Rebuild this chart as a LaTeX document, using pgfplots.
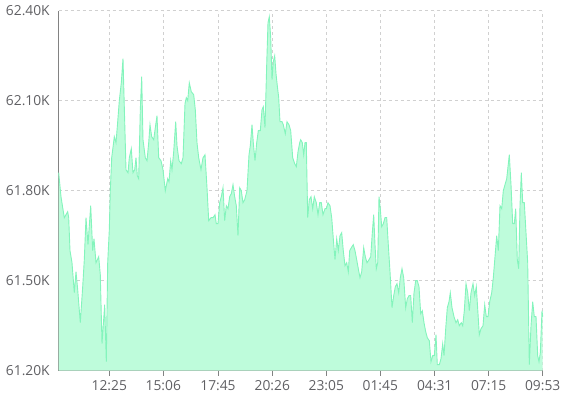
\documentclass[border=0pt]{standalone}
\usepackage{pgfplots}
\pgfplotsset{compat=1.18}
\usepackage{pgfplotstable}
\usepackage{fontspec}
\setmainfont{Open Sans}

\definecolor{areafill}{RGB}{190,252,219}
\definecolor{arealine}{RGB}{132,244,188}
\definecolor{gridc}{RGB}{208,208,208}
\definecolor{axisc}{RGB}{130,130,130}
\definecolor{labelc}{RGB}{96,96,100}

% x = horizontal position inside the plot, y = price in thousands
\pgfplotstableread{
x y
0 61.86
2.3 61.78
5.6 61.71
9 61.73
10 61.71
11.3 61.60
13.3 61.56
15.6 61.46
17.3 61.53
19 61.47
21.6 61.36
24 61.48
25.6 61.57
27.3 61.71
29.3 61.62
32 61.75
34 61.60
35.3 61.64
37.3 61.56
40 61.58
41.6 61.52
43.3 61.29
46 61.42
47.6 61.23
49 61.56
50.6 61.67
51.6 61.80
53 61.91
55.6 61.98
57.3 61.96
59 62.03
60.6 62.10
62.6 62.16
64.3 62.24
65.6 62.08
67.3 61.87
69.3 61.86
70.6 61.91
72.6 61.94
74.3 61.86
76 61.87
77.3 61.91
78.6 61.85
80 61.84
81.6 62.07
83 62.18
84.3 61.97
86.6 61.91
88.3 61.90
90 61.96
91.3 62.02
93 61.98
95 61.97
96.6 62.01
98.3 62.05
100 61.91
102.3 61.90
104.3 61.87
106.6 61.80
109 61.84
110.3 61.83
112 61.90
113.3 61.87
115 61.93
117 62.03
118.3 61.95
120.3 61.90
122.6 61.89
124.3 61.91
126.3 62.09
127.6 62.11
129 62.10
130.6 62.16
132.6 62.13
135 62.12
136.6 62.07
138.3 61.96
140 61.91
142.3 61.87
144.3 61.91
146.3 61.92
148.3 61.81
150 61.70
152.3 61.71
154.3 61.71
156.3 61.72
157.6 61.69
159.3 61.69
161 61.76
162.6 61.78
164.3 61.81
166 61.70
167.6 61.75
169.3 61.74
171 61.78
172.6 61.79
174.3 61.82
176 61.78
177.6 61.75
179.3 61.65
181 61.81
182.6 61.80
184.3 61.76
186 61.77
188.3 61.80
190.3 61.92
191.6 61.95
193.3 62.02
194.6 61.96
196.3 61.90
198 61.96
199.6 62.00
201.6 62.00
203.3 62.07
204.6 62.08
206.3 62.01
208 62.22
209.3 62.36
210.6 62.38
212 62.31
213.3 62.17
214.6 62.23
216 62.25
217.3 62.19
218.6 62.15
220 62.11
221.3 62.03
223.3 62.03
224.6 62.02
226.6 61.99
228.3 62.03
230.3 62.02
232 62.00
234 61.91
236 61.89
237.6 61.88
239.3 61.93
241 61.96
242 61.97
243.6 61.96
245 61.92
246.3 61.96
247.6 61.96
249 61.71
250.6 61.77
252.3 61.78
254 61.74
255.6 61.78
257.6 61.76
259.3 61.72
261 61.76
262.6 61.76
264.3 61.72
266.3 61.74
267.6 61.74
269.3 61.76
271.3 61.75
273 61.71
274.6 61.64
276.3 61.57
278 61.64
279.6 61.60
281.3 61.65
283 61.66
284.6 61.60
286.3 61.55
288 61.56
289.6 61.53
291 61.60
292.6 61.61
294.6 61.62
296.3 61.60
298 61.57
299.6 61.54
301.3 61.51
303 61.53
305 61.61
306.6 61.58
308.3 61.56
310.3 61.57
312 61.58
313.6 61.66
315 61.72
316.3 61.62
317.6 61.54
319 61.56
320.3 61.78
321.6 61.74
323 61.68
324.6 61.69
326.3 61.71
328 61.71
329.6 61.62
331.3 61.53
333.3 61.41
335 61.45
336.6 61.48
338.3 61.49
340 61.46
341.6 61.51
343.3 61.54
345 61.51
347 61.41
348.6 61.44
350.3 61.45
352 61.45
353.6 61.36
355.3 61.46
357 61.50
358.6 61.50
360.3 61.48
362 61.39
363.6 61.40
365.3 61.36
367 61.33
368.6 61.31
370.6 61.30
372.3 61.23
374 61.25
375.6 61.25
377.3 61.32
378.6 61.22
380.6 61.22
382.3 61.24
384 61.29
385.3 61.25
387 61.34
388.6 61.41
390.3 61.43
391.6 61.46
393.3 61.41
395.3 61.38
397.3 61.36
399 61.37
400.6 61.35
402.6 61.36
404 61.35
405.6 61.40
407.3 61.49
409 61.46
410.6 61.40
412.3 61.46
414.3 61.49
416 61.45
417.6 61.48
419.3 61.39
420.6 61.32
422.3 61.34
424.3 61.35
426 61.42
427.6 61.38
429.3 61.38
431 61.43
433 61.46
434.6 61.51
436.3 61.58
438 61.65
439.6 61.60
441.3 61.75
443 61.74
444.6 61.80
446.3 61.82
448 61.84
449.3 61.88
450.6 61.92
452.3 61.82
454 61.69
455.6 61.69
457 61.74
458.6 61.57
460 61.54
461.3 61.75
462.6 61.86
464 61.76
465.6 61.76
467.3 61.66
469 61.56
470.6 61.22
472.3 61.35
474 61.43
475.6 61.38
477.3 61.38
479 61.25
480.3 61.23
481.6 61.26
483.3 61.40
484 61.38
}\pricedata

\begin{document}
\begin{tikzpicture}
\useasboundingbox (-58.7bp,-32.3bp) rectangle (513.3bp,370.7bp);
\begin{axis}[
    scale only axis,
    width=484bp, height=360bp,
    at={(0,0)}, anchor=south west,
    xmin=0, xmax=484,
    ymin=61.2, ymax=62.4,
    axis x line=bottom, axis y line=left,
    axis line style={-, axisc, line width=1.3bp},
    xtick={50.6,104.6,159.3,213.6,267.6,321.6,376,430,484},
    xticklabels={12:25,15:06,17:45,20:26,23:05,01:45,04:31,07:15,09:53},
    ytick={61.2,61.5,61.8,62.1,62.4},
    yticklabel={\pgfmathprintnumber[fixed,fixed zerofill,precision=2]{\tick}K},
    /pgf/number format/assume math mode=true,
    ticklabel style={font=\fontsize{13.8bp}{16bp}\selectfont, text=labelc},
    xtick style={axisc, line width=1bp},
    ytick style={draw=none},
    tick align=outside,
    major tick length=5bp,
    xticklabel style={yshift=-1bp},
    yticklabel style={xshift=-0.5bp},
    grid=major,
    major grid style={gridc, line width=1bp, dash pattern=on 3bp off 3bp},
    clip=false,
]
\addplot[fill=areafill, draw=none] table[x=x, y=y] {\pricedata} \closedcycle;
\addplot[arealine, line width=0.9bp] table[x=x, y=y] {\pricedata};
\end{axis}
\end{tikzpicture}
\end{document}
